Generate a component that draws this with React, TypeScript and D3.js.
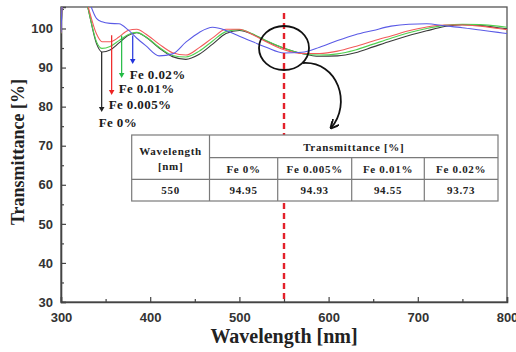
import { useEffect, useRef } from 'react';
import * as d3 from 'd3';

// wavelength grid [nm]
const wavelengths = [300, 303, 320, 330, 340, 346, 355, 365, 375, 385, 395, 410, 425, 440, 455, 470, 485, 500, 515, 530, 550, 570, 590, 610, 630, 650, 670, 690, 710, 730, 750, 770, 790, 800];

// transmittance [%] per Fe content
const fe0 = [98.5, 112, 115, 105.5, 96, 94.0, 94.5, 96.3, 98.2, 98.9, 97.8, 95, 92.8, 92.1, 93.4, 96, 98.7, 99.5, 98.5, 96.8, 94.95, 93.6, 92.9, 93.0, 93.8, 95.3, 96.8, 98.2, 99.4, 100.5, 101, 100.8, 100.2, 99.9];
const fe0005 = [98.7, 112, 115, 105.5, 96.5, 94.9, 95.4, 96.9, 98.4, 99.0, 97.9, 95.2, 93.1, 92.7, 94.2, 96.8, 99.2, 99.7, 98.6, 96.9, 94.93, 93.6, 93.2, 93.5, 94.5, 96.0, 97.5, 98.9, 100.0, 100.8, 101.1, 101, 100.6, 100.3];
const fe001 = [98.8, 112, 115, 106, 98.5, 96.6, 96.6, 97.8, 99.5, 99.8, 98.6, 96, 93.8, 93.2, 95.1, 97.6, 99.8, 99.8, 98.4, 96.6, 94.55, 93.6, 93.6, 94.2, 95.4, 96.8, 98.1, 99.4, 100.4, 100.9, 100.9, 100.6, 100, 99.7];
const fe002 = [99, 112, 115, 108, 102.5, 101.7, 101.3, 101.2, 99.7, 97.5, 95.6, 93.0, 93.5, 96.5, 99.0, 100.3, 99.5, 98.0, 96.6, 95.2, 93.73, 93.9, 95.2, 96.9, 98.4, 99.5, 100.6, 101.1, 101.2, 100.7, 100.2, 99.6, 99, 98.7];

const seriesValues = [fe0, fe0005, fe001, fe002];
const seriesColors = ['#3a3a3a', '#4fd04f', '#f25a5a', '#5a5ae6'];

// arrow annotations (drawn in order black, red, green, blue)
const arrowLabels = ['Fe 0%', 'Fe 0.005%', 'Fe 0.01%', 'Fe 0.02%'];
const arrowColors = ['#222', '#ee2222', '#22bb44', '#2233dd'];
const arrowWl = [345.6, 356.8, 368, 380.4];
const arrowFrom = [94.0, 98.3, 98.2, 98.2];
const arrowTo = [78.6, 83.0, 87.3, 90.9];

const xTicks = [300, 400, 500, 600, 700, 800];
const yTicks = [30, 40, 50, 60, 70, 80, 90, 100];
const markWl = 550;

const tableHeaders = ['Fe 0%', 'Fe 0.005%', 'Fe 0.01%', 'Fe 0.02%'];
const tableValues = ['94.95', '94.93', '94.55', '93.73'];

export default function App() {
  const svgRef = useRef<SVGSVGElement | null>(null);

  useEffect(() => {
    if (!svgRef.current) return;
    const svg = d3.select(svgRef.current);
    svg.selectAll('*').remove();

    const width = 516;
    const height = 352;
    const margin = { top: 7, right: 9, bottom: 50, left: 61 };
    const serif = '"Liberation Serif", "Times New Roman", serif';
    const sans = '"Liberation Sans", Arial, sans-serif';

    const x = d3.scaleLinear().domain([300, 800]).range([margin.left, width - margin.right]);
    const y = d3.scaleLinear().domain([30, 105.5]).range([height - margin.bottom, margin.top]);

    const defs = svg.append('defs');
    defs.append('clipPath').attr('id', 'plot-clip')
      .append('rect')
      .attr('x', margin.left).attr('y', margin.top)
      .attr('width', width - margin.left - margin.right)
      .attr('height', height - margin.top - margin.bottom);
    defs.append('marker')
      .attr('id', 'curve-head')
      .attr('viewBox', '0 0 10 10')
      .attr('refX', 9).attr('refY', 5)
      .attr('markerWidth', 5).attr('markerHeight', 5)
      .attr('orient', 'auto')
      .append('path')
      .attr('d', 'M0,0 L10,5 L0,10')
      .attr('fill', 'none')
      .attr('stroke', '#111')
      .attr('stroke-width', 2.2);

    // frame
    svg.append('rect')
      .attr('x', margin.left).attr('y', margin.top)
      .attr('width', width - margin.left - margin.right)
      .attr('height', height - margin.top - margin.bottom)
      .attr('fill', 'none').attr('stroke', '#555').attr('stroke-width', 1.3);

    // axes with inward ticks
    const xAxis = svg.append('g')
      .attr('transform', `translate(0,${height - margin.bottom})`)
      .call(d3.axisBottom(x).tickValues(xTicks).tickSize(-5).tickPadding(11).tickFormat(d3.format('d')));
    svg.append('g')
      .attr('transform', `translate(0,${height - margin.bottom})`)
      .call(d3.axisBottom(x).tickValues([350, 450, 550, 650, 750]).tickSize(-3).tickFormat(() => ''))
      .call(g => g.select('.domain').remove());
    const yAxis = svg.append('g')
      .attr('transform', `translate(${margin.left},0)`)
      .call(d3.axisLeft(y).tickValues(yTicks).tickSize(-5).tickPadding(8).tickFormat(d3.format('d')));
    svg.append('g')
      .attr('transform', `translate(${margin.left},0)`)
      .call(d3.axisLeft(y).tickValues([35, 45, 55, 65, 75, 85, 95, 105]).tickSize(-3).tickFormat(() => ''))
      .call(g => g.select('.domain').remove());

    svg.selectAll('.domain').attr('stroke', '#444').attr('stroke-width', 1.6);
    svg.selectAll('.tick line').attr('stroke', '#444').attr('stroke-width', 1.2);
    [xAxis, yAxis].forEach(a => a.selectAll('text')
      .attr('font-family', sans).attr('font-weight', 'bold').attr('font-size', 13).attr('fill', '#333'));

    // axis titles
    svg.append('text')
      .attr('x', 284).attr('y', 343)
      .attr('text-anchor', 'middle')
      .attr('font-family', serif).attr('font-weight', 'bold').attr('font-size', 20)
      .attr('fill', '#222')
      .text('Wavelength [nm]');
    svg.append('text')
      .attr('transform', 'translate(24,152) rotate(-90)')
      .attr('text-anchor', 'middle')
      .attr('font-family', serif).attr('font-weight', 'bold').attr('font-size', 18)
      .attr('fill', '#222')
      .text('Transmittance [%]');

    // spectra
    const line = d3.line<number>()
      .x((_, i) => x(wavelengths[i]))
      .y(d => y(d))
      .curve(d3.curveMonotoneX);
    svg.append('g')
      .attr('clip-path', 'url(#plot-clip)')
      .selectAll('path')
      .data(seriesValues)
      .join('path')
      .attr('d', d => line(d) || '')
      .attr('fill', 'none')
      .attr('stroke', (_, i) => seriesColors[i])
      .attr('stroke-width', 1.1);

    // 550 nm marker
    svg.append('line')
      .attr('x1', x(markWl)).attr('x2', x(markWl))
      .attr('y1', 13).attr('y2', height - margin.bottom)
      .attr('stroke', '#e3222b').attr('stroke-width', 2.4)
      .attr('stroke-dasharray', '6,4');

    // circle and curved arrow
    svg.append('ellipse')
      .attr('cx', x(markWl)).attr('cy', 48)
      .attr('rx', 25).attr('ry', 22)
      .attr('fill', 'none').attr('stroke', '#111').attr('stroke-width', 1.8);
    svg.append('path')
      .attr('d', 'M303,63 C338,61 352,104 331,128')
      .attr('fill', 'none').attr('stroke', '#111').attr('stroke-width', 1.8)
      .attr('marker-end', 'url(#curve-head)');

    // vertical arrows with labels
    const arrows = svg.append('g');
    arrowWl.forEach((wl, i) => {
      const ax = x(wl);
      const y0 = y(arrowFrom[i]);
      const y1 = y(arrowTo[i]);
      arrows.append('line')
        .attr('x1', ax).attr('x2', ax)
        .attr('y1', y0).attr('y2', y1 - 4)
        .attr('stroke', arrowColors[i]).attr('stroke-width', 1.2);
      arrows.append('path')
        .attr('d', `M${ax - 2.8},${y1 - 5} L${ax + 2.8},${y1 - 5} L${ax},${y1} Z`)
        .attr('fill', arrowColors[i]);
      arrows.append('text')
        .attr('x', ax - 3).attr('y', y1 + 14.5)
        .attr('font-family', serif).attr('font-weight', 'bold').attr('font-size', 13)
        .attr('letter-spacing', 0.4)
        .attr('fill', '#1a1a1a')
        .text(arrowLabels[i]);
    });

    // inset table
    const cols = [131.7, 209.5, 277.7, 351.7, 424.3, 498];
    const rows = [135, 157.7, 179.3, 201];
    const table = svg.append('g');
    const stroke = '#7a7a7a';
    table.append('rect')
      .attr('x', cols[0]).attr('y', rows[0])
      .attr('width', cols[5] - cols[0]).attr('height', rows[3] - rows[0])
      .attr('fill', '#fff').attr('stroke', stroke).attr('stroke-width', 1.2);
    table.append('line').attr('x1', cols[1]).attr('x2', cols[5]).attr('y1', rows[1]).attr('y2', rows[1])
      .attr('stroke', stroke).attr('stroke-width', 1.2);
    table.append('line').attr('x1', cols[0]).attr('x2', cols[5]).attr('y1', rows[2]).attr('y2', rows[2])
      .attr('stroke', stroke).attr('stroke-width', 1.2);
    table.append('line').attr('x1', cols[1]).attr('x2', cols[1]).attr('y1', rows[0]).attr('y2', rows[3])
      .attr('stroke', stroke).attr('stroke-width', 1.2);
    [2, 3, 4].forEach(c => {
      table.append('line').attr('x1', cols[c]).attr('x2', cols[c]).attr('y1', rows[1]).attr('y2', rows[3])
        .attr('stroke', stroke).attr('stroke-width', 1.2);
    });

    const cellText = (tx: number, ty: number, s: string) => table.append('text')
      .attr('x', tx).attr('y', ty)
      .attr('text-anchor', 'middle')
      .attr('font-family', serif).attr('font-weight', 'bold').attr('font-size', 11)
      .attr('letter-spacing', 0.7)
      .attr('fill', '#222')
      .text(s);

    const c0 = (cols[0] + cols[1]) / 2;
    cellText(c0, 155, 'Wavelength');
    cellText(c0, 169.5, '[nm]');
    cellText(c0, 194, String(markWl));
    cellText((cols[1] + cols[5]) / 2, 150.5, 'Transmittance [%]');
    tableHeaders.forEach((h, i) => {
      const cx = (cols[i + 1] + cols[i + 2]) / 2;
      cellText(cx, 172.5, h);
      cellText(cx, 194, tableValues[i]);
    });
  }, []);

  return (
    <svg ref={svgRef} width={516} height={352}
      style={{ position: 'absolute', left: 0, top: 0, background: '#fff' }} />
  );
}
